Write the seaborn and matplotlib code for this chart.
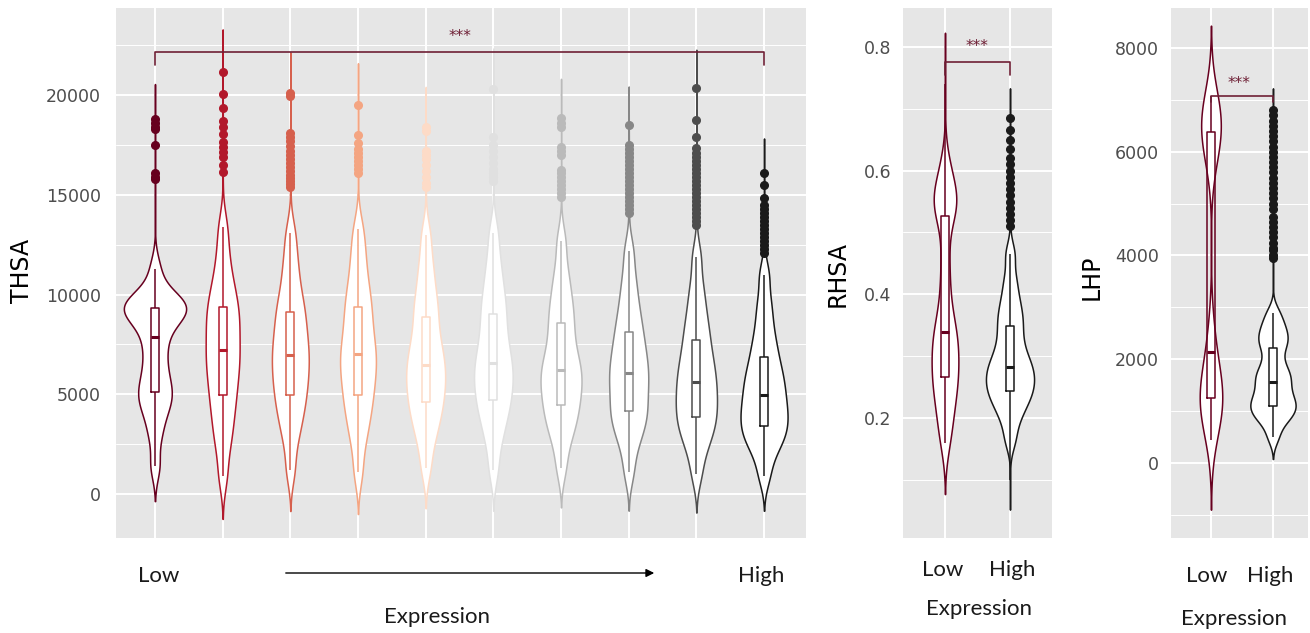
import numpy as np
import pandas as pd
import matplotlib.pyplot as plt
import seaborn as sns
from matplotlib.ticker import MultipleLocator

# Each violin: value levels at 0%, 5%, ... 100%,
# plus sparse single points (thin tails and boxplot outliers).
thsa_groups = [f"q{i}" for i in range(1, 11)]
thsa_colors = ["#67001F", "#B2182B", "#D6604D", "#F4A582", "#FDDBC7",
               "#E0E0E0", "#BABABA", "#878787", "#4D4D4D", "#1A1A1A"]
thsa_levels = [
    [1400, 2900, 3800, 4400, 4800, 5113, 5550, 6050, 6650, 7300, 7870,
     8400, 8800, 9050, 9200, 9323, 9450, 9600, 9800, 10150, 11300],
    [900, 2300, 3100, 3800, 4400, 4962, 5450, 5950, 6400, 6800, 7220,
     7650, 8100, 8550, 8950, 9373, 9850, 10400, 11100, 12100, 13400],
    [1200, 2600, 3400, 4000, 4500, 4960, 5400, 5800, 6200, 6600, 6970,
     7350, 7750, 8200, 8650, 9120, 9600, 10200, 11000, 11900, 13100],
    [1100, 2500, 3300, 3950, 4450, 4960, 5400, 5850, 6250, 6650, 7020,
     7400, 7850, 8350, 8850, 9370, 9900, 10500, 11300, 12200, 13300],
    [1300, 2500, 3200, 3750, 4200, 4610, 5000, 5400, 5750, 6100, 6470,
     6850, 7250, 7700, 8250, 8870, 9400, 10000, 10800, 11700, 13000],
    [1200, 2500, 3250, 3850, 4300, 4710, 5100, 5500, 5850, 6200, 6570,
     6950, 7400, 7900, 8450, 9020, 9550, 10150, 10900, 11800, 13100],
    [1300, 2500, 3150, 3650, 4050, 4460, 4850, 5200, 5550, 5900, 6220,
     6550, 6950, 7450, 8000, 8570, 9100, 9700, 10400, 11300, 12700],
    [1100, 2300, 2950, 3450, 3800, 4160, 4550, 4950, 5350, 5700, 6070,
     6400, 6800, 7200, 7650, 8120, 8650, 9250, 10000, 10900, 12200],
    [1000, 2100, 2700, 3150, 3500, 3870, 4200, 4550, 4900, 5250, 5620,
     5950, 6350, 6750, 7200, 7720, 8250, 8850, 9600, 10500, 11900],
    [900, 1900, 2450, 2800, 3100, 3410, 3700, 4000, 4300, 4620, 4960,
     5300, 5650, 6000, 6400, 6870, 7400, 8000, 8800, 9700, 11000],
]
thsa_sparse = [
    [15800, 15900, 16100, 17500, 18300, 18400, 18600, 18800],
    [16150, 16500, 16900, 17150, 17400, 17650, 18030, 18400, 18700, 19350, 20050, 21150],
    [15400, 15550, 15700, 15850, 16000, 16200, 16400, 16600, 16800, 17000,
     17200, 17450, 17700, 17900, 18100, 19950, 20100],
    [16100, 16300, 16500, 16700, 16900, 17100, 17300, 17600, 18000, 19500],
    [15400, 15600, 15900, 16200, 16500, 16800, 17000, 17200, 18200, 18400],
    [15700, 15900, 16100, 16300, 16600, 16900, 17200, 17500, 17900, 20300],
    [14900, 15100, 15300, 15500, 15700, 15900, 16100, 16250, 17000, 17200,
     17400, 18400, 18600, 18850],
    [14100, 14300, 14500, 14700, 14900, 15100, 15300, 15500, 15700, 15900,
     16100, 16300, 16500, 16700, 16900, 17100, 17300, 17500, 18500],
    [13500, 13700, 13900, 14100, 14300, 14500, 14700, 14900, 15100, 15300,
     15500, 15700, 15900, 16100, 16300, 16500, 16700, 16900, 17100, 17340,
     17900, 18750, 20350],
    [12100, 12300, 12500, 12700, 12900, 13100, 13300, 13500, 13700, 13900,
     14100, 14300, 14500, 14840, 15490, 16090],
]

pair_groups = ["Low", "High"]
pair_colors = ["#67001F", "#1A1A1A"]
rhsa_levels = [
    [0.16, 0.19, 0.215, 0.235, 0.251, 0.266, 0.280, 0.295, 0.310, 0.325, 0.339,
     0.355, 0.385, 0.425, 0.47, 0.526, 0.538, 0.550, 0.562, 0.578, 0.610],
    [0.165, 0.195, 0.212, 0.225, 0.234, 0.243, 0.251, 0.259, 0.267, 0.275, 0.283,
     0.292, 0.302, 0.316, 0.331, 0.348, 0.362, 0.378, 0.398, 0.425, 0.465],
]
rhsa_sparse = [
    [0.68, 0.74],
    [0.10, 0.51, 0.52, 0.53, 0.54, 0.55, 0.56, 0.57, 0.58, 0.59, 0.60, 0.61,
     0.62, 0.635, 0.65, 0.665, 0.685],
]
lhp_levels = [
    [450, 750, 920, 1050, 1150, 1250, 1360, 1480, 1620, 1850, 2140,
     2600, 5800, 6050, 6230, 6380, 6500, 6620, 6750, 6900, 7080],
    [500, 760, 870, 960, 1030, 1100, 1170, 1250, 1340, 1450, 1560,
     1650, 1740, 1850, 2020, 2220, 2330, 2440, 2560, 2700, 2900],
]
lhp_sparse = [
    [],
    [3950, 4000, 4100, 4150, 4250, 4350, 4450, 4550, 4650, 4750, 4900, 5000,
     5100, 5200, 5300, 5400, 5500, 5600, 5700, 5800, 5900, 6000, 6100, 6200,
     6300, 6400, 6500, 6600, 6700, 6800],
]

BRACKET = "#6E1F35"
W, H = 1310, 633


def long_table(groups, levels, sparse, reps=100):
    frames = []
    for g, lv, sp in zip(groups, levels, sparse):
        vals = np.concatenate([np.repeat(lv, reps), np.asarray(sp, dtype=float)])
        frames.append(pd.DataFrame({"group": g, "value": vals}))
    return pd.concat(frames, ignore_index=True)


def violin_box(ax, df, groups, colors, width, bw):
    pal = dict(zip(groups, colors))
    sns.violinplot(data=df, x="group", y="value", hue="group", order=groups,
                   hue_order=groups, palette=pal, saturation=1, inner=None,
                   width=width, cut=2.5, bw_method=bw, density_norm="area",
                   common_norm=True, gridsize=400, linewidth=1.1,
                   legend=False, ax=ax)
    # white bodies, coloured outlines
    for coll in ax.collections:
        coll.set_edgecolor(coll.get_facecolor())
        coll.set_facecolor("white")
    sns.boxplot(data=df, x="group", y="value", hue="group", order=groups,
                hue_order=groups, palette=pal, saturation=1, fill=False,
                width=0.12, linewidth=1.1, showcaps=False,
                flierprops={"marker": "o", "markersize": 5.5},
                medianprops={"linewidth": 2.2}, legend=False, ax=ax)
    for line in ax.lines:
        if line.get_marker() == "o":
            line.set_markerfacecolor(line.get_markeredgecolor())


def style_axis(ax, xlim, ylim, major, minor, pad):
    ax.set_xlim(xlim)
    ax.set_ylim(ylim)
    ax.yaxis.set_major_locator(MultipleLocator(major))
    ax.yaxis.set_minor_locator(MultipleLocator(minor))
    ax.grid(True, which="major", color="white", linewidth=1.4)
    ax.grid(True, which="minor", axis="y", color="white", linewidth=0.7)
    ax.set_xlabel("")
    ax.set_ylabel("")
    ax.set_xticklabels([])
    ax.tick_params(axis="x", length=0)
    ax.tick_params(axis="y", which="major", length=4.5, width=1.1,
                   color="#333333", labelcolor="#4D4D4D", labelsize=12.5, pad=pad)
    ax.tick_params(which="minor", length=0)
    for s in ax.spines.values():
        s.set_visible(False)


def px(x, y):
    return x / W, 1 - y / H


def label(x, y, s, **kw):
    fig.text(*px(x, y), s, ha="center", va="baseline", fontsize=16,
             family=["Lato", "DejaVu Sans"], color="#1A1A1A", **kw)


sns.set_style("darkgrid", {"axes.facecolor": "#E6E6E6", "grid.color": "white"})
plt.rcParams["font.family"] = ["DejaVu Sans"]

fig = plt.figure(figsize=(13.1, 6.33), dpi=100)
bottom, height = (H - 538) / H, 530 / H
ax1 = fig.add_axes([116 / W, bottom, 690 / W, height])
ax2 = fig.add_axes([903 / W, bottom, 149 / W, height])
ax3 = fig.add_axes([1171 / W, bottom, 137 / W, height])

violin_box(ax1, long_table(thsa_groups, thsa_levels, thsa_sparse),
           thsa_groups, thsa_colors, 0.92, 0.26)
style_axis(ax1, (-0.576, 9.62), (-2205, 24370), 5000, 2500, 6.5)
ax1.plot([0, 0, 9, 9], [21500, 22150, 22150, 21500], color=BRACKET, lw=1.2)
ax1.text(4.5, 22960, "***", ha="center", va="center", fontsize=11, color=BRACKET)

violin_box(ax2, long_table(pair_groups, rhsa_levels, rhsa_sparse),
           pair_groups, pair_colors, 0.74, 0.24)
style_axis(ax2, (-0.646, 1.646), (0.006, 0.863), 0.2, 0.1, 4)
ax2.plot([0, 0, 1, 1], [0.755, 0.776, 0.776, 0.755], color=BRACKET, lw=1.2)
ax2.text(0.49, 0.80, "***", ha="center", va="center", fontsize=11, color=BRACKET)

violin_box(ax3, long_table(pair_groups, lhp_levels, lhp_sparse),
           pair_groups, pair_colors, 0.73, 0.21)
style_axis(ax3, (-0.645, 1.565), (-1446, 8771), 2000, 1000, 4)
ax3.plot([0, 0, 1, 1], [6950, 7075, 7075, 6950], color=BRACKET, lw=1.2)
ax3.text(0.45, 7306, "***", ha="center", va="center", fontsize=11, color=BRACKET)

# axis titles
for x, y, s in [(22, 271, "THSA"), (838, 274, "RHSA"), (1092, 277, "LHP")]:
    fig.text(*px(x, y), s, rotation=90, ha="center", va="center",
             fontsize=17, color="black")

# x-axis annotations
label(159, 582, "Low")
label(761, 582, "High")
label(437, 623, "Expression")
ax1.annotate("", xy=px(657, 573), xytext=px(283, 573),
             xycoords="figure fraction", textcoords="figure fraction",
             arrowprops=dict(arrowstyle="-|>", color="black", lw=1.0,
                             mutation_scale=12))
label(943, 576, "Low")
label(1012, 576, "High")
label(979, 615, "Expression")
label(1207, 582, "Low")
label(1270, 582, "High")
label(1234, 625, "Expression")

fig.savefig("out.png", dpi=100)
